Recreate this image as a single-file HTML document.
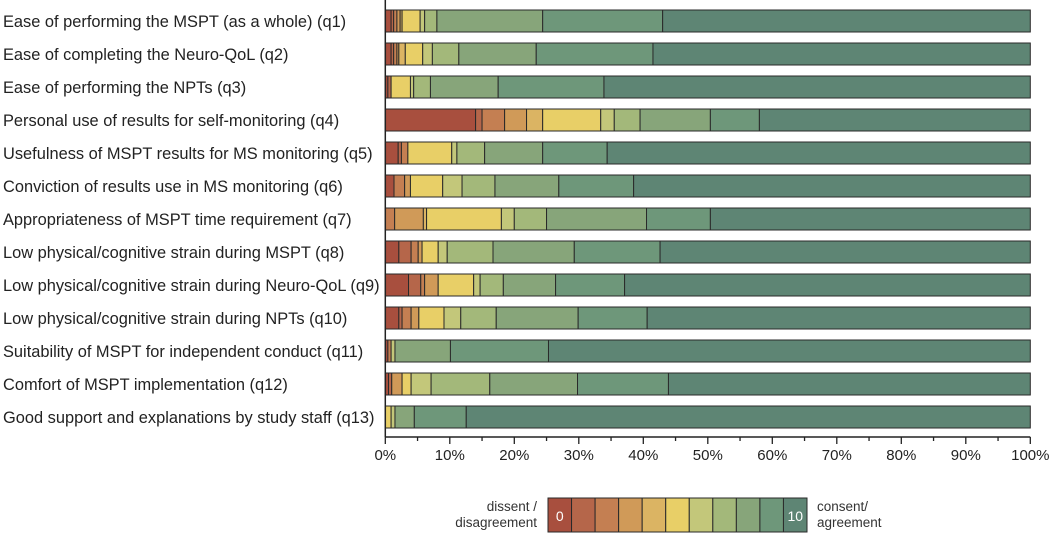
<!DOCTYPE html>
<html><head><meta charset="utf-8"><style>
body{margin:0;background:#fff;font-family:"Liberation Sans",sans-serif;}
svg text{font-family:"Liberation Sans",sans-serif;}
</style></head><body>
<svg id="chart" width="1052" height="535" viewBox="0 0 1052 535" xmlns="http://www.w3.org/2000/svg"></svg>
<script>
const categories = [
"Ease of performing the MSPT (as a whole) (q1)",
"Ease of completing the Neuro-QoL (q2)",
"Ease of performing the NPTs (q3)",
"Personal use of results for self-monitoring (q4)",
"Usefulness of MSPT results for MS monitoring (q5)",
"Conviction of results use in MS monitoring (q6)",
"Appropriateness of MSPT time requirement (q7)",
"Low physical/cognitive strain during MSPT (q8)",
"Low physical/cognitive strain during Neuro-QoL (q9)",
"Low physical/cognitive strain during NPTs (q10)",
"Suitability of MSPT for independent conduct (q11)",
"Comfort of MSPT implementation (q12)",
"Good support and explanations by study staff (q13)"];
const q1=[0.9,0.4,0.5,0.5,0.3,2.8,0.7,1.9,16.4,18.6,57.0];
const q2=[0.9,0.4,0.5,0.3,1.0,2.7,1.5,4.1,12.0,18.1,58.5];
const q3=[0.4,0.5,0,0,0,3.0,0.5,2.6,10.5,16.4,66.1];
const q4=[14.0,1.0,3.5,3.4,2.5,9.0,2.1,4.0,10.9,7.6,42.0];
const q5=[2.0,0.5,1.0,0,0,6.8,0.8,4.3,9.0,10.0,65.6];
const q6=[1.35,0,1.65,0.9,0,5.0,3.0,5.1,9.9,11.6,61.5];
const q7=[0,0,1.45,4.45,0.5,11.6,2.0,5.0,15.5,9.9,49.6];
const q8=[2.1,1.9,1.1,0.6,0,2.5,1.4,7.1,12.6,13.3,57.4];
const q9=[3.6,1.9,0.6,2.1,0,5.5,1.0,3.6,8.1,10.7,62.9];
const q10=[2.1,0.5,1.4,1.2,0,3.9,2.6,5.5,12.7,10.7,59.4];
const q11=[0.4,0,0.5,0,0,0,0.6,0,8.6,15.2,74.7];
const q12=[0.5,0.5,0,1.6,0,1.4,3.1,9.1,13.6,14.1,56.1];
const q13=[0,0,0,0,0,0.9,0.6,0,3.0,8.05,87.45];
const series=[q1,q2,q3,q4,q5,q6,q7,q8,q9,q10,q11,q12,q13];
const tickLabels=["0%","10%","20%","30%","40%","50%","60%","70%","80%","90%","100%"];
const colors=["#a84f3e","#b5664a","#c47f52","#d09a58","#dbb463","#e8cf67","#c3c77a","#a3b87a","#87a57a","#6e977a","#5e8574"];

const NS="http://www.w3.org/2000/svg";
const svg=document.getElementById("chart");
const X0=385.3,XW=645;
const x=v=>X0+v/100*XW;
const rowY=i=>10+i*33;
const BH=22;
function el(t,a){const e=document.createElementNS(NS,t);for(const k in a)e.setAttribute(k,a[k]);svg.appendChild(e);return e;}

categories.forEach((c,i)=>{
  const t=el("text",{x:3,y:rowY(i)+BH/2+6,"font-size":"16.4",fill:"#222"});
  t.textContent=c;
  
  
  const vals=series[i];const tot=vals.reduce((a,b)=>a+b,0);
  let cum=0;
  vals.forEach((v,k)=>{
    if(v<=0)return;
    const r=el("rect",{x:x(cum/tot*100),y:rowY(i),width:x((cum+v)/tot*100)-x(cum/tot*100),height:BH,fill:colors[k],stroke:"#2a2a2a","stroke-width":"1"});
    
    
    cum+=v;
  });
});
const ax=el("line",{x1:X0,y1:0,x2:X0,y2:437,stroke:"#222","stroke-width":"1.5"});


const bx=el("line",{x1:X0,y1:437,x2:x(100),y2:437,stroke:"#222","stroke-width":"1.5"});


for(let k=0;k<=20;k++){
  const tk=el("line",{x1:x(k*5),y1:437,x2:x(k*5),y2:k%2?441:444,stroke:"#222","stroke-width":"1.3"});
  
  
}
tickLabels.forEach((l,k)=>{
  const t=el("text",{x:x(k*10),y:460,"font-size":"15","text-anchor":"middle",fill:"#222"});
  t.textContent=l;
  
  
});
// legend
const LX=548,LW=259/11;
colors.forEach((c,k)=>{
  const r=el("rect",{x:LX+k*LW,y:498,width:LW,height:34,fill:c,stroke:"#2a2a2a","stroke-width":"1"});
  
  
});
const l0=el("text",{x:LX+LW/2,y:521,"font-size":"14","text-anchor":"middle",fill:"#fff"});l0.textContent="0";


const l10=el("text",{x:LX+10.5*LW,y:521,"font-size":"14","text-anchor":"middle",fill:"#fff"});l10.textContent="10";


[["dissent /",537,511,"end"],["disagreement",537,527,"end"],["consent/",817,511,"start"],["agreement",817,527,"start"]].forEach(d=>{
  const t=el("text",{x:d[1],y:d[2],"font-size":"13.5","text-anchor":d[3],fill:"#333"});
  t.textContent=d[0];
  
  
});
</script>
</body></html>
